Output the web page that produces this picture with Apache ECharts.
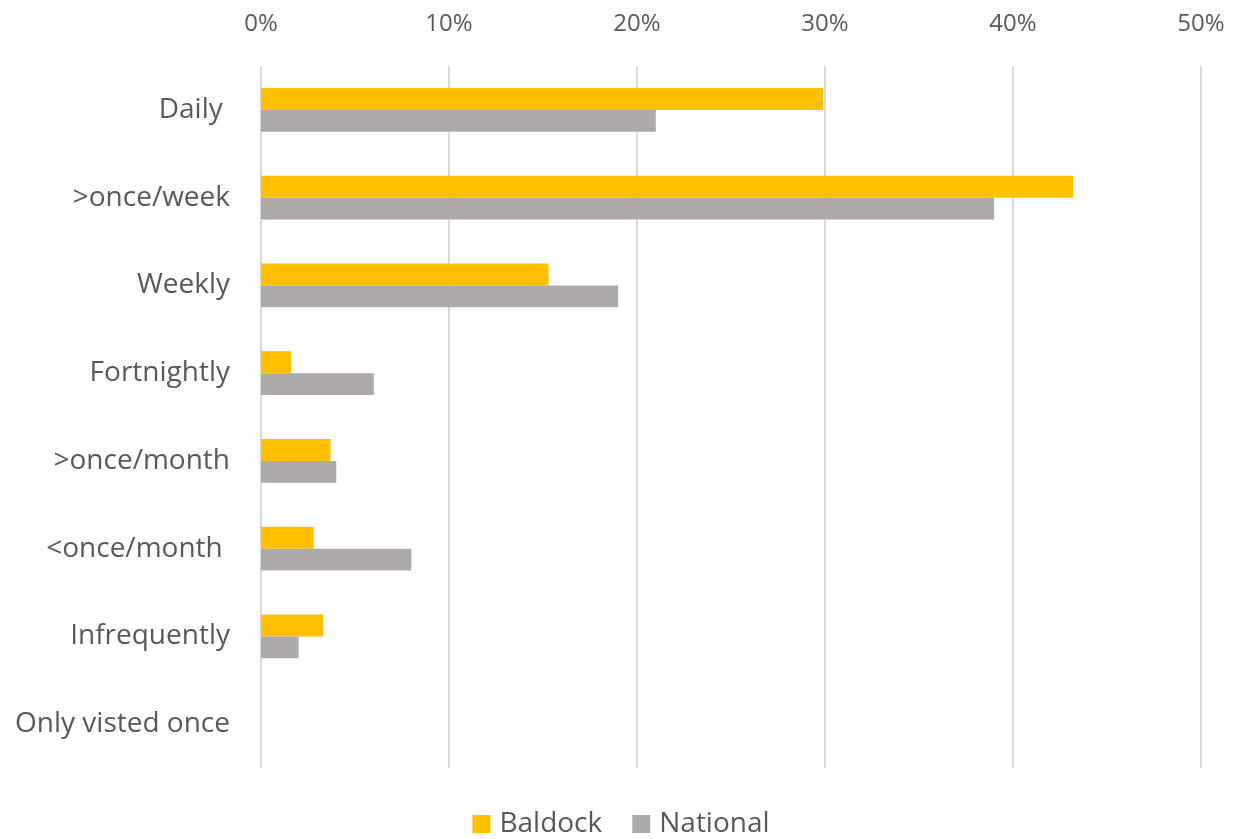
<!DOCTYPE html>
<html>
<head>
<meta charset="utf-8">
<script src="https://cdn.jsdelivr.net/npm/echarts@6/dist/echarts.min.js"></script>
<style>
    html, body { margin: 0; padding: 0; background: #fff; }
    #chart { width: 1242px; height: 839px; }
</style>
</head>
<body>
<div id="chart"></div>
<script>
    // frequency of visits, percent of respondents
    const categories = ['Daily ', '>once/week', 'Weekly', 'Fortnightly', '>once/month', '<once/month ', 'Infrequently', 'Only visted once'];
    const baldock = [29.9, 43.2, 15.3, 1.6, 3.7, 2.8, 3.3, 0];
    const national = [21.0, 39.0, 19.0, 6.0, 4.0, 8.0, 2.0, 0];
    const seriesNames = ['Baldock', 'National'];
    const colors = ['#FFC000', '#AEAAAA'];

    const font = '"Open Sans", sans-serif';
    const chart = echarts.init(document.getElementById('chart'));

    chart.setOption({
        animation: false,
        grid: {
            left: 261,
            right: 41,
            top: 66,
            bottom: 71
        },
        legend: {
            data: seriesNames,
            bottom: -4,
            left: 'center',
            itemWidth: 18,
            itemHeight: 18,
            itemGap: 30,
            icon: 'rect',
            textStyle: {
                fontFamily: font,
                fontSize: 28,
                color: '#595959',
                padding: [0, 0, 0, 4]
            }
        },
        xAxis: {
            type: 'value',
            position: 'top',
            min: 0,
            max: 50,
            interval: 10,
            axisLine: { show: false },
            axisTick: { show: false },
            axisLabel: {
                formatter: '{value}%',
                margin: 30,
                fontFamily: font,
                fontSize: 24,
                color: '#595959'
            },
            splitLine: {
                show: true,
                lineStyle: { color: '#D9D9D9', width: 2 }
            }
        },
        yAxis: {
            type: 'category',
            data: categories,
            inverse: true,
            axisLine: { show: false },
            axisTick: { show: false },
            axisLabel: {
                margin: 31,
                fontFamily: font,
                fontSize: 28,
                color: '#595959'
            }
        },
        series: [
            {
                name: seriesNames[0],
                type: 'bar',
                data: baldock,
                barGap: '0%',
                barCategoryGap: '50%',
                itemStyle: { color: colors[0] }
            },
            {
                name: seriesNames[1],
                type: 'bar',
                data: national,
                itemStyle: { color: colors[1] }
            }
        ]
    });
</script>
</body>
</html>
